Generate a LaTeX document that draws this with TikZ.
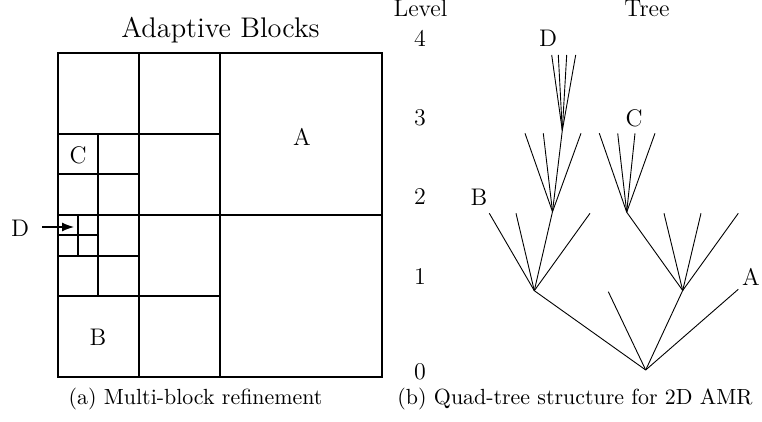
\documentclass[tikz,border=0pt]{standalone}
\usetikzlibrary{arrows.meta}
\begin{document}
\begin{tikzpicture}[x=0.5pt,y=-0.5pt,
  grid/.style={line width=0.9pt},
  edge/.style={line width=0.45pt},
  lbl/.style={font=\fontsize{12}{14}\selectfont, inner sep=0pt},
  captext/.style={font=\fontsize{10.95}{13}\selectfont, inner sep=0pt, anchor=base},
  ttl/.style={font=\fontsize{14.2}{17}\selectfont, inner sep=0pt, anchor=base}]
\useasboundingbox (0,0) rectangle (762,422);
% ---------- (a) adaptive blocks ----------
\node[ttl] (title) at (220.5,38) {Adaptive Blocks};
\draw[grid] (58,53) rectangle (382,377);
\draw[grid] (220,53) -- (220,377);
\draw[grid] (58,215) -- (382,215);
\draw[grid] (139,53) -- (139,377);
\draw[grid] (58,134) -- (220,134);
\draw[grid] (58,296) -- (220,296);
\draw[grid] (98,134) -- (98,296);
\draw[grid] (58,174) -- (139,174);
\draw[grid] (58,256) -- (139,256);
\draw[grid] (78,215) -- (78,256);
\draw[grid] (58,235) -- (98,235);
\node[lbl] (labA) at (302,137) {A};
\node[lbl] (labB) at (98,337) {B};
\node[lbl] (labC) at (78,155) {C};
\node[lbl] (labD) at (20,228) {D};
\coordinate (Dstart) at (42,227);
\coordinate (Dtip) at (74,227);
\draw[line width=0.6pt,-{Latex[length=6pt,width=4.5pt]}] (Dstart) -- (Dtip);
\node[captext] (capa) at (195.5,405) {(a) Multi-block refinement};
% ---------- (b) quad-tree ----------
\node[lbl, anchor=base] (level) at (420.5,17) {Level};
\node[lbl, anchor=base] (tree) at (647,17) {Tree};
\node[lbl] (l4) at (420,38) {4};
\node[lbl] (l3) at (420,118) {3};
\node[lbl] (l2) at (420,197) {2};
\node[lbl] (l1) at (420,277) {1};
\node[lbl] (l0) at (420,372) {0};
% branch points
\coordinate (r) at (645.7,370);
\coordinate (n1a) at (534.3,290.7);
\coordinate (n1b) at (608.3,291.7);
\coordinate (n1c) at (682.7,290.5);
\coordinate (n1d) at (738.3,289.3);
\coordinate (n2a) at (489.3,213.3);
\coordinate (n2b) at (516,213.3);
\coordinate (n2c) at (552.5,211.7);
\coordinate (n2d) at (590,213.3);
\coordinate (n2e) at (626.7,212.2);
\coordinate (n2f) at (664,213.3);
\coordinate (n2g) at (701,213.3);
\coordinate (n2h) at (738.3,213.3);
\coordinate (n3a) at (525,133.3);
\coordinate (n3b) at (543.3,133.3);
\coordinate (n3c) at (562.3,130.5);
\coordinate (n3d) at (581,133.3);
\coordinate (n3e) at (599.3,133.3);
\coordinate (n3f) at (617.7,133.3);
\coordinate (n3g) at (635,133.3);
\coordinate (n3h) at (655,133.3);
\coordinate (n4a) at (551.7,55);
\coordinate (n4b) at (558.3,55);
\coordinate (n4c) at (566.7,55);
\coordinate (n4d) at (575.7,55);
\foreach \c in {n1a,n1b,n1c,n1d} \draw[edge] (r) -- (\c);
\foreach \c in {n2a,n2b,n2c,n2d} \draw[edge] (n1a) -- (\c);
\foreach \c in {n2e,n2f,n2g,n2h} \draw[edge] (n1c) -- (\c);
\foreach \c in {n3a,n3b,n3c,n3d} \draw[edge] (n2c) -- (\c);
\foreach \c in {n3e,n3f,n3g,n3h} \draw[edge] (n2e) -- (\c);
\foreach \c in {n4a,n4b,n4c,n4d} \draw[edge] (n3c) -- (\c);
\node[lbl] (tA) at (751,277) {A};
\node[lbl] (tB) at (479,197) {B};
\node[lbl] (tC) at (634,118) {C};
\node[lbl] (tD) at (548,38) {D};
\node[captext] (capb) at (575,405) {(b) Quad-tree structure for 2D AMR};
\end{tikzpicture}
\end{document}
